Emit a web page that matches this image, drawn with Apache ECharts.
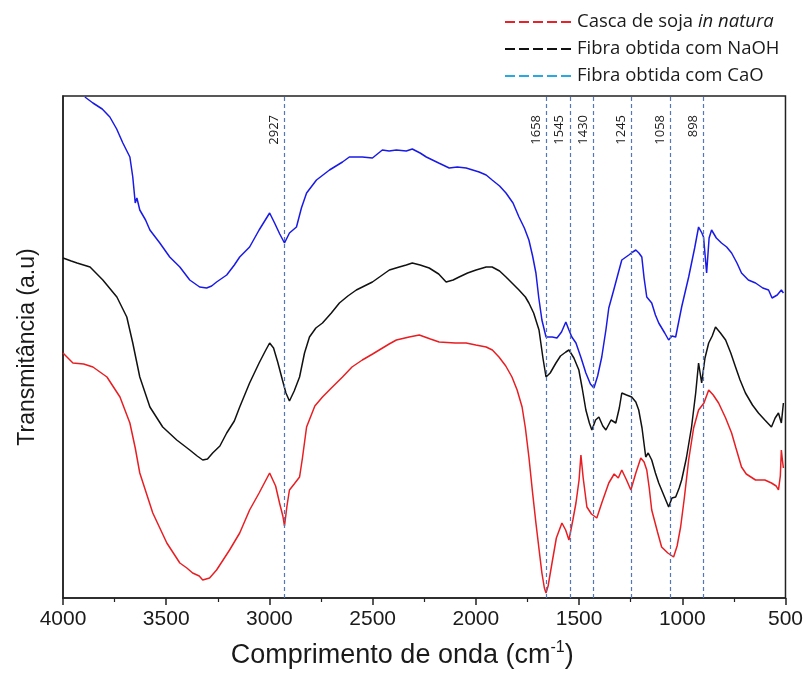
<!DOCTYPE html>
<html>
<head>
<meta charset="utf-8">
<script src="https://cdn.jsdelivr.net/npm/echarts@6/dist/echarts.min.js"></script>
<style>
  html, body { margin: 0; padding: 0; background: #fff; }
  #chart { width: 806px; height: 679px; }
</style>
</head>
<body>
<div id="chart"></div>
<script>
// FTIR spectra: wavenumber (cm-1) and transmittance (arbitrary units, stacked)
const casca = [
  [4000,245],[3952,235],[3900,234],[3855,231],[3787,221],[3724,201],[3676,175],[3650,150],[3628,125],
  [3565,85],[3497,55],[3434,35],[3400,30],[3372,25],[3340,22],[3323,18],[3290,20],[3256,28],[3193,48],
  [3144,65],[3096,88],[3050,105],[2999,125],[2970,112],[2951,95],[2935,82],[2927,72],[2915,92],[2903,108],
  [2880,114],[2854,121],[2840,140],[2820,171],[2780,192],[2743,201],[2700,210],[2646,221],[2600,231],
  [2550,238],[2500,244],[2468,248],[2420,254],[2385,258],[2323,261],[2274,263],[2220,259],[2178,256],
  [2100,255],[2047,255],[2000,253],[1950,251],[1920,248],[1888,241],[1855,232],[1825,221],[1800,208],
  [1776,191],[1760,170],[1743,141],[1725,105],[1709,75],[1690,42],[1680,25],[1668,10],[1660,5],[1650,12],
  [1631,35],[1610,60],[1583,75],[1565,68],[1549,58],[1530,78],[1515,95],[1500,118],[1491,143],[1480,120],
  [1462,91],[1440,84],[1414,80],[1390,95],[1356,115],[1330,124],[1310,120],[1293,128],[1270,118],
  [1249,108],[1225,125],[1201,140],[1185,136],[1172,128],[1160,110],[1148,88],[1120,66],[1100,51],
  [1070,45],[1042,41],[1025,52],[1008,71],[990,100],[969,138],[945,170],[921,188],[895,195],[872,208],
  [850,203],[824,195],[790,180],[761,165],[740,150],[713,131],[690,124],[645,118],[600,118],[568,115],
  [545,112],[534,108],[525,122],[520,148],[515,138],[510,130]
];
const naoh = [
  [4000,340],[3960,337],[3932,335],[3869,331],[3807,318],[3739,301],[3691,281],[3662,255],[3645,238],
  [3628,221],[3579,191],[3517,171],[3449,158],[3386,148],[3350,142],[3323,138],[3300,139],[3275,145],
  [3240,152],[3207,165],[3170,177],[3144,191],[3096,215],[3050,235],[3020,247],[2999,255],[2980,250],
  [2960,236],[2937,218],[2920,205],[2903,197],[2880,207],[2854,221],[2830,245],[2806,261],[2775,270],
  [2743,275],[2700,285],[2661,295],[2620,302],[2579,308],[2540,312],[2501,316],[2460,322],[2419,328],
  [2371,331],[2337,333],[2308,335],[2270,333],[2226,330],[2180,324],[2144,316],[2110,318],[2081,321],
  [2040,325],[1999,328],[1950,331],[1921,331],[1885,327],[1854,321],[1820,314],[1791,308],[1760,301],
  [1743,295],[1720,285],[1694,268],[1675,240],[1660,221],[1640,225],[1612,235],[1590,242],[1564,246],
  [1549,248],[1525,240],[1501,228],[1485,210],[1467,188],[1450,175],[1438,168],[1420,178],[1404,181],
  [1385,172],[1370,168],[1345,178],[1322,175],[1305,190],[1293,205],[1270,203],[1245,201],[1225,196],
  [1211,188],[1195,170],[1177,141],[1165,145],[1148,138],[1130,125],[1114,115],[1090,103],[1066,91],
  [1050,100],[1032,101],[1015,110],[1003,118],[980,140],[955,171],[935,205],[921,235],[906,215],
  [890,240],[872,255],[855,262],[839,271],[815,265],[790,258],[765,245],[742,231],[720,218],[694,205],
  [660,193],[631,185],[600,178],[568,171],[550,180],[534,185],[520,175],[510,195]
];
const cao = [
  [3894,501],[3855,495],[3810,489],[3773,481],[3740,469],[3710,455],[3676,441],[3662,421],[3650,395],
  [3642,400],[3628,388],[3600,378],[3579,368],[3531,355],[3483,341],[3434,331],[3386,318],[3338,311],
  [3304,310],[3280,312],[3256,316],[3207,323],[3170,333],[3144,341],[3096,351],[3050,368],[3020,378],
  [2999,385],[2975,375],[2950,364],[2927,355],[2903,365],[2869,371],[2845,390],[2820,405],[2772,418],
  [2709,428],[2646,436],[2613,441],[2550,441],[2501,440],[2453,448],[2420,447],[2385,448],[2337,447],
  [2308,449],[2270,445],[2240,441],[2180,435],[2129,430],[2090,431],[2047,430],[1984,426],[1950,423],
  [1921,418],[1885,412],[1854,405],[1820,395],[1791,381],[1765,370],[1743,358],[1725,342],[1709,325],
  [1695,300],[1680,278],[1660,261],[1630,261],[1607,260],[1585,266],[1564,276],[1549,268],[1535,261],
  [1515,255],[1490,240],[1467,225],[1445,214],[1428,210],[1410,222],[1390,241],[1370,268],[1356,290],
  [1332,308],[1310,325],[1293,338],[1259,343],[1240,346],[1225,348],[1210,345],[1196,341],[1185,320],
  [1172,301],[1148,295],[1130,283],[1114,275],[1085,265],[1066,258],[1050,262],[1032,261],[1003,291],
  [969,321],[940,350],[921,371],[905,365],[897,361],[882,325],[870,360],[858,368],[835,360],[810,355],
  [785,351],[761,345],[735,335],[713,325],[680,318],[645,315],[610,310],[582,308],[565,300],[558,298],
  [540,303],[520,308],[510,305]
];

// Absorption bands marked on the spectra (cm-1)
const bands = [2927, 1658, 1545, 1430, 1245, 1058, 898];

// Axis tick values
const xTicks = [4000, 3500, 3000, 2500, 2000, 1500, 1000, 500];

const seriesNames = ['Casca de soja in natura', 'Fibra obtida com NaOH', 'Fibra obtida com CaO'];

const chart = echarts.init(document.getElementById('chart'), null, { renderer: 'canvas' });

const legendRows = [
  { rich: '{a|Casca de soja }{b|in natura}', color: '#e8222a', y: 22 },
  { rich: '{a|Fibra obtida com NaOH}', color: '#111111', y: 49 },
  { rich: '{a|Fibra obtida com CaO}', color: '#27a9e1', y: 76 }
];

const legendGraphics = [];
legendRows.forEach(function (r) {
  legendGraphics.push({
    type: 'line', x: 505, y: r.y,
    shape: { x1: 0, y1: 0, x2: 66, y2: 0 },
    style: { stroke: r.color, lineWidth: 2.2, lineDash: [10, 4] }
  });
  legendGraphics.push({
    type: 'text', x: 577, y: r.y,
    style: {
      text: r.rich, verticalAlign: 'middle', align: 'left',
      rich: {
        a: { fontFamily: 'Open Sans', fontSize: 18.5, fill: '#1a1a1a' },
        b: { fontFamily: 'Open Sans', fontSize: 18.5, fill: '#1a1a1a', fontStyle: 'italic' }
      }
    }
  });
});

const lineCommon = {
  type: 'line', showSymbol: false, symbol: 'none', smooth: false, animation: false
};

chart.setOption({
  animation: false,
  backgroundColor: '#ffffff',
  grid: {
    left: 63, right: 19, top: 96, bottom: 81,
    show: true, borderColor: '#222', borderWidth: 1.5, backgroundColor: 'transparent'
  },
  xAxis: {
    type: 'value', min: 500, max: 4000, interval: 500, inverse: true,
    name: '{t|Comprimento de onda (cm}{s|-1}{t|)}',
    nameLocation: 'middle', nameGap: 42,
    nameTextStyle: {
      padding: [0, 44, 0, 0],
      rich: {
        t: { fontFamily: 'Liberation Sans', fontSize: 27, color: '#1a1a1a', lineHeight: 32 },
        s: { fontFamily: 'Liberation Sans', fontSize: 16, color: '#1a1a1a', verticalAlign: 'top', lineHeight: 32, padding: [0, 0, 14, 0] }
      }
    },
    axisLine: { show: true, lineStyle: { color: '#222', width: 1.5 } },
    axisTick: { show: true, inside: false, length: 7, lineStyle: { color: '#222', width: 1.5 } },
    minorTick: { show: true, splitNumber: 2, length: 4, lineStyle: { color: '#222', width: 1.2 } },
    axisLabel: {
      show: true, margin: 11, fontFamily: 'Liberation Sans', fontSize: 21, color: '#1a1a1a',
      showMinLabel: true, showMaxLabel: true,
      formatter: function (v) { return xTicks.indexOf(v) >= 0 ? String(v) : ''; }
    },
    splitLine: { show: false }
  },
  yAxis: {
    type: 'value', min: 0, max: 502,
    name: 'Transmitância (a.u)', nameLocation: 'middle', nameGap: 24, nameRotate: 90,
    nameTextStyle: { fontFamily: 'Liberation Sans', fontSize: 23, color: '#1a1a1a' },
    axisLine: { show: true, lineStyle: { color: '#222', width: 1.5 } },
    axisTick: { show: false },
    axisLabel: { show: false },
    splitLine: { show: false }
  },
  series: [
    Object.assign({}, lineCommon, {
      name: seriesNames[0], data: casca, z: 3,
      lineStyle: { color: '#e81e22', width: 1.5 }
    }),
    Object.assign({}, lineCommon, {
      name: seriesNames[1], data: naoh, z: 3,
      lineStyle: { color: '#111111', width: 1.5 }
    }),
    Object.assign({}, lineCommon, {
      name: seriesNames[2], data: cao, z: 3,
      lineStyle: { color: '#1a1ae6', width: 1.5 },
      markLine: {
        silent: true, symbol: ['none', 'none'], animation: false,
        lineStyle: { color: '#5577b5', type: [4, 3], width: 1.2 },
        label: {
          show: true, position: 'insideEndTop', distance: [19, 4],
          fontFamily: 'Open Sans', fontSize: 13, color: '#1a1a1a',
          formatter: function (p) { return String(p.value); }
        },
        data: bands.map(function (b) { return { xAxis: b }; })
      }
    })
  ],
  graphic: legendGraphics
});
</script>
</body>
</html>
